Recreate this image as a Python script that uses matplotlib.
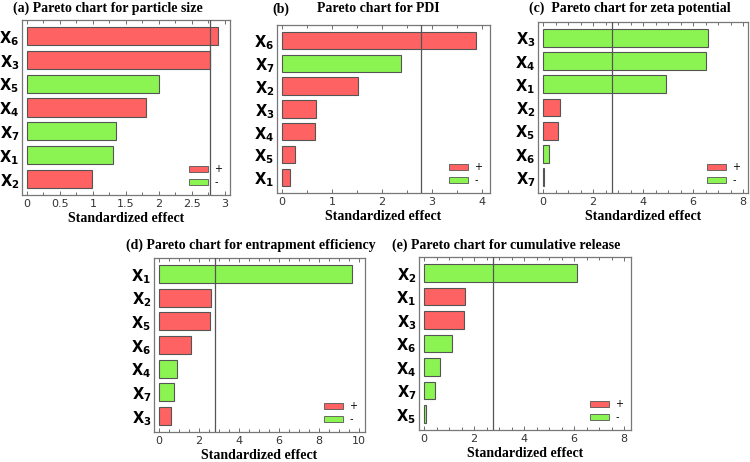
import numpy as np
import matplotlib.pyplot as plt
from matplotlib.patches import Patch
from matplotlib.ticker import MultipleLocator, FormatStrFormatter
from matplotlib import font_manager

plt.rcParams['mathtext.fontset'] = 'dejavusans'

RED = '#ff6262'
GREEN = '#8cf452'

# narrow font for tick numbers if there is one
names = set(f.name for f in font_manager.fontManager.ttflist)
TICK_FONT = 'Liberation Sans Narrow' if 'Liberation Sans Narrow' in names else 'DejaVu Sans'

# critical t value line (df = 4, alpha 0.05)
t_crit = 2.776

# factor labels (top to bottom) and standardized effects, sign: +1 red, -1 green
a_factors = ['6', '3', '5', '4', '7', '1', '2']
a_effects = [2.90, 2.78, 2.00, 1.80, 1.35, 1.30, 0.98]
a_signs = [1, 1, -1, 1, -1, -1, 1]

b_factors = ['6', '7', '2', '3', '4', '5', '1']
b_effects = [3.87, 2.37, 1.52, 0.68, 0.65, 0.25, 0.16]
b_signs = [1, -1, 1, 1, 1, 1, 1]

c_factors = ['3', '4', '1', '2', '5', '6', '7']
c_effects = [6.60, 6.52, 4.90, 0.68, 0.60, 0.22, 0.03]
c_signs = [-1, -1, -1, 1, 1, -1, -1]

d_factors = ['1', '2', '5', '6', '4', '7', '3']
d_effects = [9.65, 2.62, 2.57, 1.62, 0.90, 0.75, 0.60]
d_signs = [-1, 1, 1, 1, -1, -1, 1]

e_factors = ['2', '1', '3', '6', '4', '7', '5']
e_effects = [6.10, 1.65, 1.58, 1.10, 0.65, 0.42, 0.07]
e_signs = [-1, 1, 1, -1, -1, -1, -1]

fig = plt.figure(figsize=(7.5, 4.62), dpi=100)
W, H = 750.0, 462.0


def add_ax(left, top, right, bottom):
    return fig.add_axes([left / W, 1 - bottom / H, (right - left) / W, (bottom - top) / H])


def pareto(ax, factors, effects, signs, xlim, major, minor):
    n = len(factors)
    ypos = np.arange(n)[::-1]
    colors = [RED if s > 0 else GREEN for s in signs]
    ax.barh(ypos, effects, height=0.76, color=colors, edgecolor='#555555', linewidth=0.8, zorder=2)
    ax.axvline(t_crit, color='#555555', lw=0.9, zorder=3)
    ax.set_xlim(*xlim)
    ax.set_ylim(-0.68, n - 1 + 0.68)
    ax.set_yticks(ypos)
    ax.set_yticklabels([r'$\mathbf{X}_\mathbf{%s}$' % f for f in factors], fontsize=10.5)
    ax.tick_params(axis='y', length=0, pad=2)
    ax.xaxis.set_major_locator(MultipleLocator(major))
    ax.xaxis.set_minor_locator(MultipleLocator(minor))
    ax.xaxis.set_major_formatter(FormatStrFormatter('%g'))
    ax.tick_params(axis='x', which='both', direction='in', top=True, labelsize=8,
                   labelcolor='#333333', color='#555555', length=3, width=0.6, pad=3,
                   labelfontfamily=TICK_FONT)
    ax.tick_params(axis='x', which='minor', length=2)
    for sp in ax.spines.values():
        sp.set_color('#777777')
        sp.set_linewidth(0.9)
    ax.set_xlabel('Standardized effect', family='Liberation Serif', fontweight='bold',
                  fontsize=10, labelpad=2)
    handles = [Patch(facecolor=RED, edgecolor='#555555', lw=0.6, label='+'),
               Patch(facecolor=GREEN, edgecolor='#555555', lw=0.6, label='-')]
    ax.legend(handles=handles, loc='lower right', frameon=False, fontsize=7,
              handlelength=2.0, handleheight=0.6, handletextpad=0.6,
              labelspacing=0.3, borderaxespad=0.4)


ax_a = add_ax(22, 20, 230, 195)
pareto(ax_a, a_factors, a_effects, a_signs, (-0.076, 3.08), 0.5, 0.25)
ax_b = add_ax(277, 25, 490, 193)
pareto(ax_b, b_factors, b_effects, b_signs, (-0.1, 4.16), 1, 0.5)
ax_c = add_ax(538, 22, 748, 193)
pareto(ax_c, c_factors, c_effects, c_signs, (-0.2, 8.2), 2, 0.5)
ax_d = add_ax(154, 258, 365, 432)
pareto(ax_d, d_factors, d_effects, d_signs, (-0.25, 10.3), 2, 0.5)
ax_e = add_ax(419, 257, 631, 430)
pareto(ax_e, e_factors, e_effects, e_signs, (-0.2, 8.28), 2, 0.5)

tkw = dict(family='Liberation Serif', fontweight='bold', fontsize=10, va='center')
fig.text(13 / W, 1 - 8 / H, '(a) Pareto chart for particle size', ha='left', **tkw)
fig.text(272 / W, 1 - 9 / H, '(b)', ha='left', **tkw)
fig.text(378 / W, 1 - 9 / H, 'Pareto chart for PDI', ha='center', **tkw)
fig.text(529 / W, 1 - 8 / H, '(c)  Pareto chart for zeta potential', ha='left', **tkw)
fig.text(126 / W, 1 - 245 / H, '(d) Pareto chart for entrapment efficiency', ha='left', **tkw)
fig.text(392 / W, 1 - 245 / H, '(e) Pareto chart for cumulative release', ha='left', **tkw)

fig.savefig('out.png', dpi=100)
